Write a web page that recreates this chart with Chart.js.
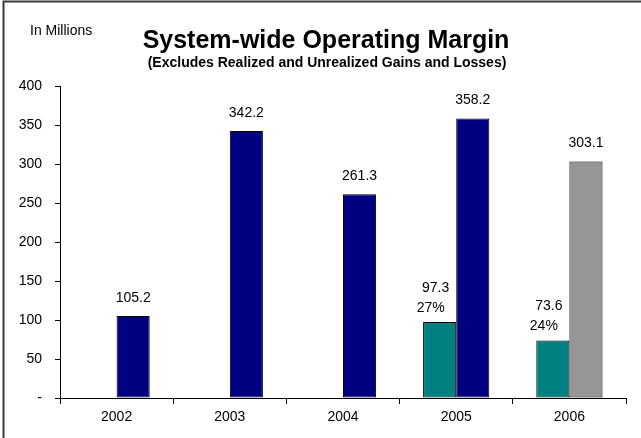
<!DOCTYPE html>
<html>
<head>
<meta charset="utf-8">
<script src="https://cdn.jsdelivr.net/npm/chart.js@4.4.0/dist/chart.umd.min.js"></script>
<style>
  html, body { margin: 0; padding: 0; background: #ffffff; }
  #wrap { width: 641px; height: 438px; position: relative; }
</style>
</head>
<body>
<div id="wrap"><canvas id="c" width="641" height="438"></canvas></div>
<script>
const categories = ['2002', '2003', '2004', '2005', '2006'];
const marginValues = [null, null, null, 97.3, 73.6];
const marginPercents = [null, null, null, '27%', '24%'];
const operatingValues = [105.2, 342.2, 261.3, 358.2, 303.1];
const yTicks = [0, 50, 100, 150, 200, 250, 300, 350, 400];
const chartTitle = 'System-wide Operating Margin';
const chartSubtitle = '(Excludes Realized and Unrealized Gains and Losses)';
const unitLabel = 'In Millions';

const FONT = '"Liberation Sans", Arial, Helvetica, sans-serif';

const frameAndText = {
  id: 'frameAndText',
  beforeDraw(chart) {
    const ctx = chart.ctx;
    ctx.save();
    ctx.fillStyle = '#ffffff';
    ctx.fillRect(0, 0, chart.width, chart.height);
    ctx.strokeStyle = '#3a3a3a';
    ctx.lineWidth = 2;
    ctx.beginPath();
    ctx.moveTo(3.5, chart.height);
    ctx.lineTo(3.5, 1.5);
    ctx.lineTo(chart.width, 1.5);
    ctx.stroke();
    ctx.restore();
  },
  afterDraw(chart) {
    const ctx = chart.ctx;
    ctx.save();
    ctx.fillStyle = '#000000';
    ctx.textBaseline = 'middle';
    ctx.textAlign = 'left';
    ctx.font = '14px ' + FONT;
    ctx.fillText(unitLabel, 30, 31);
    ctx.textAlign = 'center';
    ctx.font = 'bold 25px ' + FONT;
    ctx.fillText(chartTitle, 326, 41);
    ctx.font = 'bold 14px ' + FONT;
    ctx.fillText(chartSubtitle, 327, 63);

    // value labels
    ctx.font = '14px ' + FONT;
    ctx.textBaseline = 'middle';
    const m0 = chart.getDatasetMeta(0);
    const m1 = chart.getDatasetMeta(1);
    m1.data.forEach((bar, i) => {
      const v = operatingValues[i];
      if (v == null) return;
      ctx.fillText(v.toFixed(1), bar.x, bar.y - 18);
    });
    m0.data.forEach((bar, i) => {
      const v = marginValues[i];
      if (v == null) return;
      ctx.fillText(marginPercents[i], bar.x - 9, bar.y - 14);
      ctx.fillText(v.toFixed(1), bar.x - 4, bar.y - 34);
    });
    ctx.restore();
  }
};

new Chart(document.getElementById('c'), {
  type: 'bar',
  data: {
    labels: categories,
    datasets: [
      {
        data: marginValues,
        backgroundColor: '#008080',
        borderColor: '#000000',
        borderWidth: 1,
        borderSkipped: false,
        inflateAmount: 0,
        categoryPercentage: 0.585,
        barPercentage: 1.0
      },
      {
        data: operatingValues,
        backgroundColor: operatingValues.map((v, i) => i === 4 ? '#969696' : '#000080'),
        borderColor: '#000000',
        borderWidth: 1,
        borderSkipped: false,
        inflateAmount: 0,
        categoryPercentage: 0.585,
        barPercentage: 1.0
      }
    ]
  },
  options: {
    responsive: false,
    animation: false,
    layout: { padding: { top: 86, right: 15, bottom: 0, left: 0 } },
    plugins: {
      legend: { display: false },
      title: { display: false },
      tooltip: { enabled: false }
    },
    scales: {
      x: {
        grid: { display: true, offset: true, drawOnChartArea: false, drawTicks: true, tickLength: 6, color: '#000000', lineWidth: 1 },
        border: { display: true, color: '#000000', width: 1 },
        ticks: { color: '#000000', font: { family: FONT, size: 14 }, padding: 5, maxRotation: 0 },
        afterFit(scale) { scale.height = 40; }
      },
      y: {
        min: 0,
        max: 400,
        afterBuildTicks(scale) { scale.ticks = yTicks.map(v => ({ value: v })); },
        grid: { display: true, drawOnChartArea: false, drawTicks: true, tickLength: 5, color: '#000000', lineWidth: 1 },
        border: { display: true, color: '#000000', width: 1 },
        ticks: {
          color: '#000000',
          font: { family: FONT, size: 14 },
          padding: 13,
          callback: (v) => v === 0 ? '-' : String(v)
        },
        afterFit(scale) { scale.width = 60; }
      }
    }
  },
  plugins: [frameAndText]
});
</script>
</body>
</html>
